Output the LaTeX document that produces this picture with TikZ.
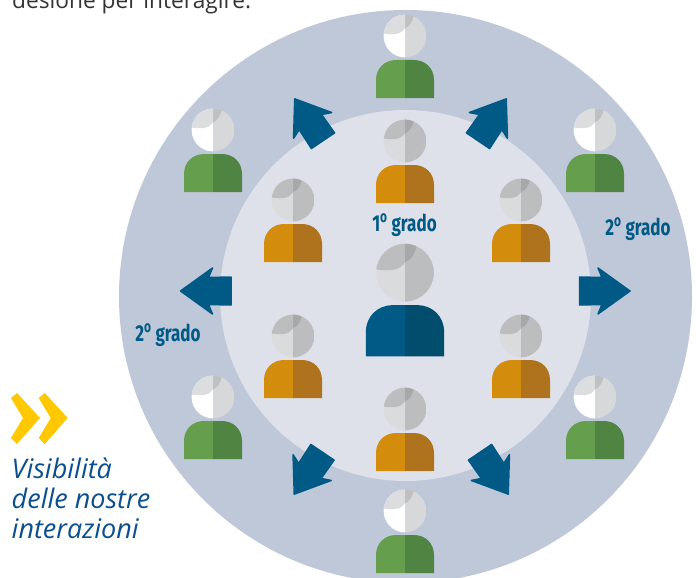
\documentclass[tikz,border=0pt]{standalone}
\usepackage{fontspec}
\setmainfont{Open Sans}
\newfontfamily\gradefont{Fira Sans}
\definecolor{ringOuter}{HTML}{BEC8D8}
\definecolor{ringInner}{HTML}{DEE1E9}
\definecolor{arrowBlue}{HTML}{005A85}
\definecolor{chevronYellow}{HTML}{FFC800}
\definecolor{captionBlue}{HTML}{0B4F8F}
\definecolor{outerBodyL}{HTML}{659F4E}
\definecolor{outerBodyR}{HTML}{4F8442}
\definecolor{outerHeadLow}{HTML}{FFFFFF}
\definecolor{outerHeadTop}{HTML}{DCDDDF}
\definecolor{outerHeadRight}{HTML}{D7D8DA}
\definecolor{outerWedge}{HTML}{BFC0C2}
\definecolor{innerBodyL}{HTML}{D38C0C}
\definecolor{innerBodyR}{HTML}{B0731D}
\definecolor{innerHeadLow}{HTML}{DADBDD}
\definecolor{innerHeadTop}{HTML}{BCBDBF}
\definecolor{innerHeadRight}{HTML}{BCBDBF}
\definecolor{innerWedge}{HTML}{A7A8AA}
\definecolor{centreBodyL}{HTML}{005A85}
\definecolor{centreBodyR}{HTML}{004D6E}
\tikzset{
    grade/.style={text=arrowBlue,font=\gradefont\bfseries\fontsize{23}{23}\selectfont,xscale=.74,inner sep=0pt},
    pics/person/.style 2 args={code={
        \begin{scope}
            \clip (0,0) circle (21.4);
            \fill[#2HeadLow] (-22,-22) rectangle (0,22);
            \fill[#2HeadRight] (0,-22) rectangle (22,22);
            \fill[#2HeadTop] (-22,-22) -- (-22,-2.7) .. controls (-12,-0.5) and (-3,-2) .. (0,-7.7) -- (0,-22) -- cycle;
            \fill[#2Wedge] (0,-22) -- (0,-7.7) .. controls (4,-9) and (8,-14) .. (9,-22) -- cycle;
        \end{scope}
        \fill[#1BodyL] (0,62) -- (-29,62) -- (-29,44) .. controls (-29,32) and (-20,24) .. (-9,24) -- (0,24) -- cycle;
        \fill[#1BodyR] (0,62) -- (29,62) -- (29,44) .. controls (29,32) and (20,24) .. (9,24) -- (0,24) -- cycle;
    }},
    pics/spread/.style={code={
        \fill[arrowBlue,draw=arrowBlue,line width=1.5pt,line join=round]
            (25.5,0) -- (-6.5,23) -- (-2.5,13.5) -- (-25,14) -- (-25,-14) -- (-2.5,-13.5) -- (-6.5,-23) -- cycle;
    }},
    pics/chevron/.style={code={
        \fill[chevronYellow] (0,0) -- (6,-5) -- (29,20) -- (6,46) -- (0,40) -- (12,20) -- cycle;
    }}
}
\begin{document}
\begin{tikzpicture}[x=1pt,y=-1pt]
    \useasboundingbox (0,0) rectangle (696,578);
    \clip (0,0) rectangle (696,578);

    \fill[ringOuter] (405.5,296.5) circle (286.5);
    \fill[ringInner] (405.5,295.5) circle (185.5);

    \foreach \px/\py in {405/36,213/130,595/130,213/397,595/397,405/511}
        \pic at (\px,\py) {person={outer}{outer}};
    \foreach \px/\py in {405/141,293/200,521/200,293/336,521/336,405/409}
        \pic at (\px,\py) {person={inner}{inner}};
    \pic[scale=1.35] at (405,272.7) {person={centre}{inner}};

    \foreach \ax/\ay/\aa in {206/291/180,604.5/291/0,309/120/124,492/120/56,308.5/473/-124,494/473/-56}
        \pic[rotate=\aa] at (\ax,\ay) {spread};

    \node[grade] (first) at (404.5,225) {1\textsuperscript{o} grado};
    \node[grade] (secondR) at (638,229) {2\textsuperscript{o} grado};
    \node[grade] (secondL) at (168,335) {2\textsuperscript{o} grado};

    \pic at (11,398) {chevron};
    \pic at (38.7,398) {chevron};

    \node[anchor=base west,inner sep=0pt,text=black!80,font=\fontsize{22.7}{22.7}\selectfont] (intro) at (12,8.5) {desione per interagire.};
    \node[anchor=base west,inner sep=0pt,text=captionBlue,align=left,font=\itshape\fontsize{27}{30}\selectfont] (caption) at (11.5,538) {Visibilità\\delle nostre\\interazioni};
\end{tikzpicture}
\end{document}
